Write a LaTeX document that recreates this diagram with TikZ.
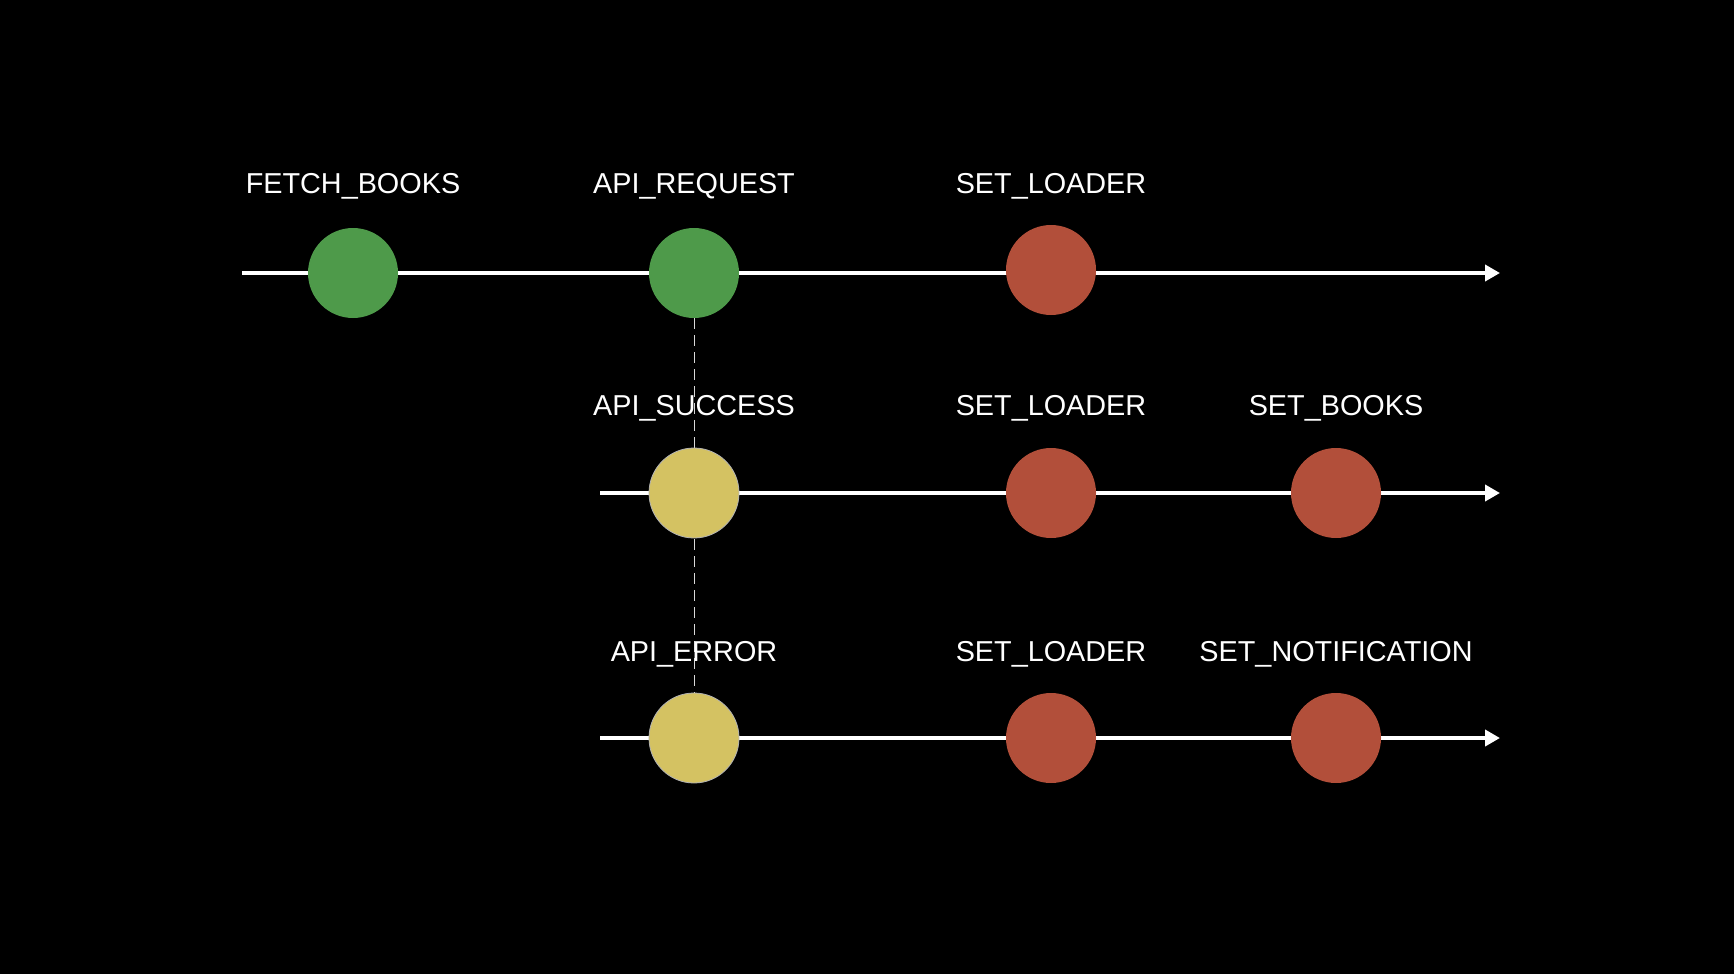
\documentclass[tikz,border=0pt]{standalone}
\usepackage{fontspec}
\setmainfont{Liberation Sans}
\usetikzlibrary{arrows.meta, positioning}
\definecolor{greenball}{RGB}{78,154,74}
\definecolor{yellowball}{RGB}{212,194,98}
\definecolor{redball}{RGB}{178,79,58}
\pgfdeclarelayer{canvas}
\pgfdeclarelayer{background}
\pgfsetlayers{canvas,background,main}

\begin{document}
\begin{tikzpicture}[
    x=0.5pt, y=-0.5pt,
    font=\fontsize{14.4}{17}\selectfont,
    node distance=17pt,
    ball/.style={circle, inner sep=0pt, minimum size=45pt},
    okball/.style={ball, fill=greenball},
    apiball/.style={ball, fill=yellowball, draw=white!70!black, line width=0.4pt},
    setball/.style={ball, fill=redball},
    tag/.style={text=white, inner sep=0pt, text depth=0pt},
    timeline/.style={-{Triangle[length=7.5pt, width=8pt]}, draw=white, line width=2pt},
    link/.style={draw=white!85!black, line width=0.5pt, dash pattern=on 5.5pt off 3pt}
]

\begin{pgfonlayer}{canvas}
\fill[black] (0,0) rectangle (1734,974);
\end{pgfonlayer}
\useasboundingbox (0,0) rectangle (1734,974);

% first stream
\coordinate (s1) at (242,273);
\coordinate (e1) at (1500,273);
\node[okball] (fetch) at (353,273) {};
\node[okball] (req) at (694,273) {};
\node[setball] (load1) at (1051,270) {};
\node[tag, above=of fetch] {FETCH\_BOOKS};
\node[tag, above=of req] {API\_REQUEST};
\node[tag, above=15.5pt of load1] {SET\_LOADER};

% success stream
\coordinate (s2) at (600,493);
\coordinate (e2) at (1500,493);
\node[apiball] (ok) at (694,493) {};
\node[setball] (load2) at (1051,493) {};
\node[setball] (books) at (1336,493) {};
\node[tag, above=16pt of ok] {API\_SUCCESS};
\node[tag, above=16pt of load2] {SET\_LOADER};
\node[tag, above=16pt of books] {SET\_BOOKS};

% error stream
\coordinate (s3) at (600,738);
\coordinate (e3) at (1500,738);
\node[apiball] (err) at (694,738) {};
\node[setball] (load3) at (1051,738) {};
\node[setball] (notif) at (1336,738) {};
\node[tag, above=15.5pt of err] {API\_ERROR};
\node[tag, above=15.5pt of load3] {SET\_LOADER};
\node[tag, above=15.5pt of notif] {SET\_NOTIFICATION};

\begin{pgfonlayer}{background}
\draw[timeline] (s1) -- (e1);
\draw[timeline] (s2) -- (e2);
\draw[timeline] (s3) -- (e3);
\draw[link] (req.south) -- (err.north);
\end{pgfonlayer}

\end{tikzpicture}
\end{document}
